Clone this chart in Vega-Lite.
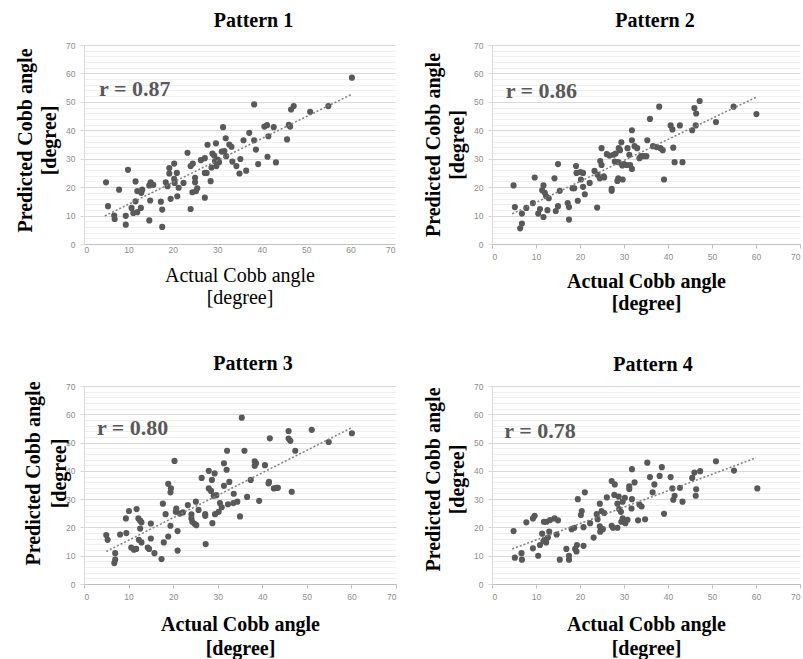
{
  "$schema": "https://vega.github.io/schema/vega-lite/v6.json",
  "background": "white",
  "padding": {"left": 15, "top": 11, "right": 0, "bottom": 0},
  "config": {
    "view": {"stroke": null},
    "axis": {"labelFont": "Liberation Sans", "labelFontSize": 8.5, "labelColor": "#8c8c8c", "titleFont": "Liberation Serif", "titleFontSize": 20, "titleFontWeight": "bold", "titleColor": "#000000", "tickSize": 4, "labelOverlap": false},
    "title": {"font": "Liberation Serif", "fontSize": 20, "fontWeight": "bold", "color": "#000000", "frame": "group", "baseline": "alphabetic"}
  },
  "datasets": {
    "p1": [
      {"actual":4.96,"predicted":21.7},{"actual":5.4,"predicted":13.3},{"actual":6.8,"predicted":10.0},{"actual":6.9,"predicted":8.8},{"actual":7.9,"predicted":19.1},{"actual":9.4,"predicted":9.9},{"actual":9.4,"predicted":6.8},{"actual":9.9,"predicted":26.1},{"actual":10.7,"predicted":12.7},{"actual":11.1,"predicted":10.9},{"actual":11.6,"predicted":22.0},{"actual":11.6,"predicted":15.0},{"actual":12.0,"predicted":18.6},{"actual":12.0,"predicted":11.2},{"actual":12.8,"predicted":12.7},{"actual":12.9,"predicted":18.0},{"actual":13.1,"predicted":19.1},{"actual":14.7,"predicted":20.6},{"actual":14.7,"predicted":8.3},{"actual":14.9,"predicted":15.3},{"actual":15.0,"predicted":21.7},{"actual":15.6,"predicted":20.8},{"actual":17.3,"predicted":14.9},{"actual":17.6,"predicted":12.1},{"actual":17.6,"predicted":6.0},{"actual":18.4,"predicted":21.7},{"actual":18.8,"predicted":20.3},{"actual":19.2,"predicted":26.7},{"actual":19.2,"predicted":24.8},{"actual":19.5,"predicted":15.9},{"actual":20.3,"predicted":28.3},{"actual":20.4,"predicted":21.5},{"actual":20.3,"predicted":22.9},{"actual":20.9,"predicted":25.0},{"actual":21.0,"predicted":16.8},{"actual":21.3,"predicted":19.8},{"actual":22.4,"predicted":21.5},{"actual":23.3,"predicted":32.1},{"actual":24.0,"predicted":12.3},{"actual":24.0,"predicted":27.4},{"actual":24.4,"predicted":18.2},{"actual":24.5,"predicted":28.3},{"actual":25.0,"predicted":23.3},{"actual":25.0,"predicted":21.7},{"actual":25.2,"predicted":18.6},{"actual":25.5,"predicted":19.6},{"actual":26.3,"predicted":29.5},{"actual":27.2,"predicted":16.3},{"actual":27.2,"predicted":25.0},{"actual":27.2,"predicted":30.2},{"actual":27.6,"predicted":25.0},{"actual":27.8,"predicted":34.9},{"actual":28.5,"predicted":22.1},{"actual":28.7,"predicted":26.9},{"actual":28.9,"predicted":31.8},{"actual":29.3,"predicted":31.1},{"actual":29.5,"predicted":29.1},{"actual":29.7,"predicted":35.4},{"actual":29.8,"predicted":27.4},{"actual":30.1,"predicted":29.7},{"actual":30.4,"predicted":28.8},{"actual":31.0,"predicted":32.5},{"actual":31.3,"predicted":41.1},{"actual":31.6,"predicted":32.7},{"actual":31.9,"predicted":37.2},{"actual":32.0,"predicted":30.9},{"actual":32.7,"predicted":35.0},{"actual":33.2,"predicted":34.2},{"actual":33.4,"predicted":29.0},{"actual":34.3,"predicted":27.4},{"actual":35.0,"predicted":24.8},{"actual":35.2,"predicted":29.9},{"actual":35.9,"predicted":36.5},{"actual":36.5,"predicted":25.8},{"actual":37.2,"predicted":39.1},{"actual":38.3,"predicted":49.1},{"actual":38.3,"predicted":36.5},{"actual":38.7,"predicted":33.2},{"actual":39.2,"predicted":28.1},{"actual":40.6,"predicted":41.3},{"actual":41.2,"predicted":41.8},{"actual":41.3,"predicted":30.7},{"actual":41.5,"predicted":37.9},{"actual":42.7,"predicted":41.1},{"actual":43.2,"predicted":28.7},{"actual":45.7,"predicted":36.8},{"actual":46.1,"predicted":41.9},{"actual":46.4,"predicted":41.3},{"actual":46.6,"predicted":47.3},{"actual":47.2,"predicted":48.5},{"actual":50.9,"predicted":46.5},{"actual":55.0,"predicted":48.5},{"actual":60.3,"predicted":58.5}
    ],
    "p2": [
      {"actual":4.9,"predicted":20.6},{"actual":5.2,"predicted":13.0},{"actual":6.4,"predicted":5.5},{"actual":6.8,"predicted":7.2},{"actual":6.8,"predicted":10.7},{"actual":7.8,"predicted":12.7},{"actual":9.3,"predicted":14.4},{"actual":9.7,"predicted":23.4},{"actual":10.5,"predicted":10.7},{"actual":10.9,"predicted":12.3},{"actual":11.7,"predicted":9.5},{"actual":11.7,"predicted":20.6},{"actual":11.4,"predicted":18.9},{"actual":12.0,"predicted":18.0},{"actual":12.3,"predicted":16.8},{"actual":12.6,"predicted":11.9},{"actual":12.9,"predicted":16.1},{"actual":14.2,"predicted":23.1},{"actual":14.5,"predicted":11.6},{"actual":15.0,"predicted":28.1},{"actual":15.0,"predicted":13.3},{"actual":15.4,"predicted":18.7},{"actual":17.2,"predicted":14.4},{"actual":17.5,"predicted":13.0},{"actual":17.5,"predicted":8.6},{"actual":18.3,"predicted":19.6},{"actual":18.7,"predicted":19.6},{"actual":19.1,"predicted":27.4},{"actual":19.2,"predicted":25.0},{"actual":19.5,"predicted":15.2},{"actual":20.1,"predicted":25.3},{"actual":20.2,"predicted":22.7},{"actual":20.7,"predicted":25.0},{"actual":20.7,"predicted":20.1},{"actual":21.1,"predicted":17.5},{"actual":22.2,"predicted":21.5},{"actual":23.3,"predicted":25.7},{"actual":23.9,"predicted":12.8},{"actual":24.0,"predicted":24.4},{"actual":24.5,"predicted":23.1},{"actual":24.6,"predicted":29.2},{"actual":24.9,"predicted":33.7},{"actual":24.9,"predicted":27.8},{"actual":25.4,"predicted":23.8},{"actual":25.5,"predicted":23.4},{"actual":26.1,"predicted":31.6},{"actual":26.7,"predicted":31.1},{"actual":27.2,"predicted":18.7},{"actual":27.2,"predicted":19.4},{"actual":27.6,"predicted":31.4},{"actual":27.9,"predicted":29.0},{"actual":28.1,"predicted":31.8},{"actual":28.5,"predicted":22.2},{"actual":28.7,"predicted":23.1},{"actual":28.7,"predicted":28.8},{"actual":28.8,"predicted":33.7},{"actual":29.1,"predicted":33.0},{"actual":29.4,"predicted":35.8},{"actual":29.6,"predicted":27.6},{"actual":29.7,"predicted":22.7},{"actual":30.0,"predicted":28.1},{"actual":30.6,"predicted":27.8},{"actual":30.8,"predicted":33.7},{"actual":31.2,"predicted":31.4},{"actual":31.4,"predicted":27.8},{"actual":31.8,"predicted":26.4},{"actual":31.8,"predicted":36.5},{"actual":31.8,"predicted":40.0},{"actual":32.4,"predicted":34.4},{"actual":33.0,"predicted":33.7},{"actual":33.5,"predicted":30.2},{"actual":33.9,"predicted":30.9},{"actual":34.5,"predicted":30.9},{"actual":35.1,"predicted":30.9},{"actual":35.3,"predicted":36.5},{"actual":35.9,"predicted":44.0},{"actual":36.6,"predicted":34.4},{"actual":37.4,"predicted":34.1},{"actual":38.0,"predicted":48.3},{"actual":38.3,"predicted":33.7},{"actual":38.8,"predicted":33.0},{"actual":39.1,"predicted":22.7},{"actual":40.6,"predicted":41.7},{"actual":41.0,"predicted":40.3},{"actual":41.2,"predicted":33.9},{"actual":41.5,"predicted":28.8},{"actual":42.7,"predicted":41.7},{"actual":43.3,"predicted":28.8},{"actual":45.5,"predicted":40.0},{"actual":46.0,"predicted":47.8},{"actual":46.3,"predicted":41.7},{"actual":46.4,"predicted":45.9},{"actual":47.2,"predicted":50.3},{"actual":50.9,"predicted":42.9},{"actual":54.9,"predicted":48.3},{"actual":60.1,"predicted":45.7}
    ],
    "p3": [
      {"actual":5.0,"predicted":17.3},{"actual":5.3,"predicted":15.6},{"actual":7.0,"predicted":10.9},{"actual":7.0,"predicted":8.6},{"actual":6.8,"predicted":7.4},{"actual":8.1,"predicted":17.5},{"actual":9.4,"predicted":23.2},{"actual":9.5,"predicted":18.0},{"actual":10.1,"predicted":25.8},{"actual":10.6,"predicted":12.9},{"actual":11.2,"predicted":12.1},{"actual":11.7,"predicted":12.4},{"actual":11.8,"predicted":26.5},{"actual":12.2,"predicted":23.2},{"actual":12.3,"predicted":15.6},{"actual":12.6,"predicted":22.4},{"actual":12.6,"predicted":19.6},{"actual":12.9,"predicted":21.8},{"actual":12.9,"predicted":14.7},{"actual":14.3,"predicted":12.9},{"actual":14.6,"predicted":12.4},{"actual":15.0,"predicted":21.4},{"actual":15.0,"predicted":16.1},{"actual":15.8,"predicted":10.9},{"actual":17.4,"predicted":8.8},{"actual":17.7,"predicted":28.4},{"actual":17.9,"predicted":14.7},{"actual":18.3,"predicted":24.7},{"actual":18.9,"predicted":35.4},{"actual":18.9,"predicted":16.8},{"actual":19.4,"predicted":32.4},{"actual":19.4,"predicted":20.6},{"actual":19.5,"predicted":33.8},{"actual":20.3,"predicted":43.5},{"actual":20.6,"predicted":25.5},{"actual":20.7,"predicted":26.7},{"actual":21.0,"predicted":18.7},{"actual":21.0,"predicted":11.8},{"actual":21.5,"predicted":24.9},{"actual":22.2,"predicted":25.3},{"actual":23.3,"predicted":27.9},{"actual":24.1,"predicted":24.6},{"actual":24.1,"predicted":23.2},{"actual":24.3,"predicted":22.0},{"actual":24.8,"predicted":21.3},{"actual":25.1,"predicted":29.1},{"actual":25.2,"predicted":20.8},{"actual":25.7,"predicted":26.2},{"actual":26.4,"predicted":37.5},{"actual":27.2,"predicted":24.7},{"actual":27.2,"predicted":24.1},{"actual":27.3,"predicted":14.1},{"actual":28.0,"predicted":40.0},{"actual":28.0,"predicted":33.8},{"actual":28.5,"predicted":32.9},{"actual":28.7,"predicted":36.8},{"actual":28.8,"predicted":21.5},{"actual":29.1,"predicted":31.2},{"actual":29.3,"predicted":39.1},{"actual":29.4,"predicted":24.7},{"actual":29.7,"predicted":31.4},{"actual":30.2,"predicted":25.5},{"actual":30.5,"predicted":28.6},{"actual":30.9,"predicted":27.1},{"actual":31.4,"predicted":42.7},{"actual":31.4,"predicted":34.7},{"actual":32.0,"predicted":40.4},{"actual":32.1,"predicted":47.1},{"actual":32.3,"predicted":28.2},{"actual":32.6,"predicted":36.1},{"actual":33.5,"predicted":28.6},{"actual":33.6,"predicted":31.9},{"actual":34.4,"predicted":29.1},{"actual":35.0,"predicted":23.9},{"actual":35.4,"predicted":58.8},{"actual":36.0,"predicted":47.1},{"actual":36.6,"predicted":30.8},{"actual":37.4,"predicted":36.8},{"actual":38.3,"predicted":43.4},{"actual":38.3,"predicted":41.8},{"actual":38.6,"predicted":42.7},{"actual":39.3,"predicted":29.4},{"actual":40.6,"predicted":42.0},{"actual":41.4,"predicted":35.6},{"actual":41.5,"predicted":36.1},{"actual":41.7,"predicted":51.5},{"actual":42.6,"predicted":33.8},{"actual":43.2,"predicted":34.0},{"actual":43.5,"predicted":34.0},{"actual":45.9,"predicted":54.1},{"actual":45.9,"predicted":51.4},{"actual":46.3,"predicted":50.6},{"actual":46.6,"predicted":32.6},{"actual":47.4,"predicted":47.1},{"actual":51.1,"predicted":54.5},{"actual":54.9,"predicted":50.2},{"actual":60.1,"predicted":53.3}
    ],
    "p4": [
      {"actual":4.9,"predicted":18.7},{"actual":5.2,"predicted":9.3},{"actual":6.7,"predicted":10.9},{"actual":6.8,"predicted":8.6},{"actual":7.8,"predicted":21.8},{"actual":9.3,"predicted":23.2},{"actual":9.3,"predicted":12.6},{"actual":9.7,"predicted":24.1},{"actual":10.5,"predicted":10.0},{"actual":10.9,"predicted":13.8},{"actual":11.4,"predicted":17.8},{"actual":11.7,"predicted":15.2},{"actual":11.8,"predicted":22.0},{"actual":12.0,"predicted":15.6},{"actual":12.4,"predicted":22.0},{"actual":12.3,"predicted":14.7},{"actual":12.7,"predicted":16.4},{"actual":13.0,"predicted":18.5},{"actual":13.2,"predicted":22.6},{"actual":14.2,"predicted":23.2},{"actual":14.7,"predicted":17.5},{"actual":15.0,"predicted":22.5},{"actual":15.4,"predicted":8.6},{"actual":16.9,"predicted":12.4},{"actual":17.5,"predicted":10.0},{"actual":17.5,"predicted":8.6},{"actual":18.1,"predicted":19.4},{"actual":18.7,"predicted":19.9},{"actual":18.9,"predicted":12.4},{"actual":19.2,"predicted":11.5},{"actual":19.3,"predicted":13.8},{"actual":19.5,"predicted":30.0},{"actual":20.2,"predicted":24.4},{"actual":20.4,"predicted":25.8},{"actual":20.8,"predicted":13.5},{"actual":20.8,"predicted":20.1},{"actual":21.1,"predicted":32.4},{"actual":22.3,"predicted":21.5},{"actual":23.1,"predicted":16.4},{"actual":23.8,"predicted":24.7},{"actual":24.0,"predicted":22.9},{"actual":24.5,"predicted":28.4},{"actual":24.5,"predicted":20.4},{"actual":24.6,"predicted":18.5},{"actual":24.9,"predicted":25.8},{"actual":25.2,"predicted":19.4},{"actual":25.5,"predicted":25.1},{"actual":26.1,"predicted":30.6},{"actual":27.2,"predicted":36.4},{"actual":27.2,"predicted":20.6},{"actual":27.5,"predicted":19.9},{"actual":27.8,"predicted":31.5},{"actual":27.9,"predicted":35.2},{"actual":28.5,"predicted":28.4},{"actual":28.5,"predicted":19.9},{"actual":28.8,"predicted":30.9},{"actual":28.9,"predicted":26.5},{"actual":29.3,"predicted":25.5},{"actual":29.4,"predicted":22.0},{"actual":29.7,"predicted":23.2},{"actual":29.7,"predicted":29.1},{"actual":30.2,"predicted":30.5},{"actual":30.3,"predicted":21.5},{"actual":30.8,"predicted":22.7},{"actual":31.2,"predicted":33.6},{"actual":31.2,"predicted":34.5},{"actual":31.7,"predicted":26.7},{"actual":31.8,"predicted":30.0},{"actual":31.8,"predicted":40.6},{"actual":32.4,"predicted":35.9},{"actual":33.2,"predicted":22.5},{"actual":33.5,"predicted":28.1},{"actual":34.0,"predicted":27.4},{"actual":34.8,"predicted":22.9},{"actual":35.3,"predicted":42.9},{"actual":35.9,"predicted":37.8},{"actual":36.9,"predicted":35.2},{"actual":36.5,"predicted":32.4},{"actual":38.1,"predicted":38.2},{"actual":38.6,"predicted":41.3},{"actual":39.1,"predicted":24.8},{"actual":40.6,"predicted":37.8},{"actual":41.0,"predicted":33.8},{"actual":41.2,"predicted":29.8},{"actual":41.5,"predicted":31.2},{"actual":42.7,"predicted":34.0},{"actual":43.3,"predicted":29.1},{"actual":45.5,"predicted":37.5},{"actual":46.0,"predicted":39.4},{"actual":46.3,"predicted":31.2},{"actual":46.4,"predicted":33.5},{"actual":47.3,"predicted":39.9},{"actual":50.9,"predicted":43.4},{"actual":55.0,"predicted":40.1},{"actual":60.3,"predicted":33.8}
    ],
    "t1": [{"actual":4.7,"predicted":9.9},{"actual":60.3,"predicted":52.7}],
    "t2": [{"actual":4.6,"predicted":10.6},{"actual":60.0,"predicted":51.6}],
    "t3": [{"actual":5.0,"predicted":11.5},{"actual":60.1,"predicted":55.3}],
    "t4": [{"actual":4.6,"predicted":12.4},{"actual":60.0,"predicted":44.6}]
  },
  "columns": 2,
  "spacing": {"row": 142, "column": 96},
  "bounds": "flush",
  "concat": [
    {
      "width": 311, "height": 199,
      "title": {"text": "Pattern 1", "offset": 10, "dx": 14},
      "layer": [
        {
          "data": {"name": "p1"},
          "mark": {"type": "circle", "size": 38, "color": "#595959", "opacity": 1},
          "encoding": {
            "x": {"field": "actual", "type": "quantitative", "scale": {"domain": [0, 70], "nice": false},
              "axis": {"values": [0,10,20,30,40,50,60,70], "tickCount": 20, "grid": false, "ticks": false, "labelPadding": 1, "labelOverlap": false, "domainColor": "#bfbfbf", "title": ["Actual Cobb angle", "[degree]"], "titleFontWeight": "normal", "titleLineHeight": 22, "titlePadding": 12}},
            "y": {"field": "predicted", "type": "quantitative", "scale": {"domain": [0, 70], "nice": false},
              "axis": {"values": [0,2,4,6,8,10,12,14,16,18,20,22,24,26,28,30,32,34,36,38,40,42,44,46,48,50,52,54,56,58,60,62,64,66,68,70], "tickCount": 40, "grid": true, "labelOverlap": false,
                "gridColor": {"condition": {"test": "datum.value % 10 === 0", "value": "#d9d9d9"}, "value": "#efefef"},
                "tickColor": "#d9d9d9", "tickOpacity": {"condition": {"test": "datum.value % 10 === 0", "value": 1}, "value": 0},
                "labelExpr": "datum.value % 10 === 0 ? datum.label : ''", "labelPadding": 5, "domainColor": "#d9d9d9",
                "title": ["Predicted Cobb angle", "[degree]"], "titleLineHeight": 24, "titlePadding": 6, "titleY": 95}}
          }
        },
        {
          "data": {"name": "t1"},
          "mark": {"type": "line", "strokeDash": [2, 2], "color": "#7f7f7f", "strokeWidth": 1.5},
          "encoding": {"x": {"field": "actual", "type": "quantitative"}, "y": {"field": "predicted", "type": "quantitative"}}
        },
        {
          "data": {"values": [{"label": "r = 0.87"}]},
          "mark": {"type": "text", "align": "left", "baseline": "middle", "font": "Liberation Serif", "fontSize": 22, "fontWeight": "bold", "color": "#595959"},
          "encoding": {"x": {"datum": 3.4}, "y": {"datum": 54.6}, "text": {"field": "label"}}
        }
      ]
    },
    {
      "width": 308, "height": 199,
      "title": {"text": "Pattern 2", "offset": 10, "dx": 9},
      "layer": [
        {
          "data": {"name": "p2"},
          "mark": {"type": "circle", "size": 38, "color": "#595959", "opacity": 1},
          "encoding": {
            "x": {"field": "actual", "type": "quantitative", "scale": {"domain": [0, 70], "nice": false},
              "axis": {"values": [0,10,20,30,40,50,60,70], "tickCount": 20, "grid": false, "tickColor": "#bfbfbf", "labelPadding": 4, "labelOverlap": false, "labelFlush": 3, "domainColor": "#bfbfbf",
                "title": ["Actual Cobb angle", "[degree]"], "titleLineHeight": 22, "titlePadding": 11}},
            "y": {"field": "predicted", "type": "quantitative", "scale": {"domain": [0, 70], "nice": false},
              "axis": {"values": [0,2,4,6,8,10,12,14,16,18,20,22,24,26,28,30,32,34,36,38,40,42,44,46,48,50,52,54,56,58,60,62,64,66,68,70], "tickCount": 40, "grid": true, "labelOverlap": false,
                "gridColor": {"condition": {"test": "datum.value % 10 === 0", "value": "#d9d9d9"}, "value": "#efefef"},
                "tickColor": "#d9d9d9", "tickOpacity": {"condition": {"test": "datum.value % 10 === 0", "value": 1}, "value": 0},
                "labelExpr": "datum.value % 10 === 0 ? datum.label : ''", "labelPadding": 5, "domainColor": "#d9d9d9",
                "title": ["Predicted Cobb angle", "[degree]"], "titleLineHeight": 24, "titlePadding": 6}}
          }
        },
        {
          "data": {"name": "t2"},
          "mark": {"type": "line", "strokeDash": [2, 2], "color": "#7f7f7f", "strokeWidth": 1.5},
          "encoding": {"x": {"field": "actual", "type": "quantitative"}, "y": {"field": "predicted", "type": "quantitative"}}
        },
        {
          "data": {"values": [{"label": "r = 0.86"}]},
          "mark": {"type": "text", "align": "left", "baseline": "middle", "font": "Liberation Serif", "fontSize": 22, "fontWeight": "bold", "color": "#595959"},
          "encoding": {"x": {"datum": 3.1}, "y": {"datum": 53.7}, "text": {"field": "label"}}
        }
      ]
    },
    {
      "width": 312, "height": 198,
      "title": {"text": "Pattern 3", "offset": 7, "dx": 13},
      "layer": [
        {
          "data": {"name": "p3"},
          "mark": {"type": "circle", "size": 38, "color": "#595959", "opacity": 1},
          "encoding": {
            "x": {"field": "actual", "type": "quantitative", "scale": {"domain": [0, 70], "nice": false},
              "axis": {"values": [0,10,20,30,40,50,60,70], "tickCount": 20, "grid": false, "tickColor": "#bfbfbf", "labelPadding": 4, "labelOverlap": false, "domainColor": "#bfbfbf",
                "title": ["Actual Cobb angle", "[degree]"], "titleLineHeight": 24, "titlePadding": 14}},
            "y": {"field": "predicted", "type": "quantitative", "scale": {"domain": [0, 70], "nice": false},
              "axis": {"values": [0,2,4,6,8,10,12,14,16,18,20,22,24,26,28,30,32,34,36,38,40,42,44,46,48,50,52,54,56,58,60,62,64,66,68,70], "tickCount": 40, "grid": true, "labelOverlap": false,
                "gridColor": {"condition": {"test": "datum.value % 10 === 0", "value": "#d9d9d9"}, "value": "#efefef"},
                "tickColor": "#d9d9d9", "tickOpacity": {"condition": {"test": "datum.value % 10 === 0", "value": 1}, "value": 0},
                "labelExpr": "datum.value % 10 === 0 ? datum.label : ''", "labelPadding": 5, "domainColor": "#d9d9d9",
                "title": ["Predicted Cobb angle", "[degree]"], "titleLineHeight": 26, "titlePadding": -4, "titleY": 87}}
          }
        },
        {
          "data": {"name": "t3"},
          "mark": {"type": "line", "strokeDash": [2, 2], "color": "#7f7f7f", "strokeWidth": 1.5},
          "encoding": {"x": {"field": "actual", "type": "quantitative"}, "y": {"field": "predicted", "type": "quantitative"}}
        },
        {
          "data": {"values": [{"label": "r = 0.80"}]},
          "mark": {"type": "text", "align": "left", "baseline": "middle", "font": "Liberation Serif", "fontSize": 22, "fontWeight": "bold", "color": "#595959"},
          "encoding": {"x": {"datum": 2.9}, "y": {"datum": 55.3}, "text": {"field": "label"}}
        }
      ]
    },
    {
      "width": 308, "height": 198,
      "title": {"text": "Pattern 4", "offset": 7, "dx": 7},
      "layer": [
        {
          "data": {"name": "p4"},
          "mark": {"type": "circle", "size": 38, "color": "#595959", "opacity": 1},
          "encoding": {
            "x": {"field": "actual", "type": "quantitative", "scale": {"domain": [0, 70], "nice": false},
              "axis": {"values": [0,10,20,30,40,50,60,70], "tickCount": 20, "grid": false, "tickColor": "#bfbfbf", "labelPadding": 4, "labelOverlap": false, "labelFlush": 3, "domainColor": "#bfbfbf",
                "title": ["Actual Cobb angle", "[degree]"], "titleLineHeight": 24, "titlePadding": 14}},
            "y": {"field": "predicted", "type": "quantitative", "scale": {"domain": [0, 70], "nice": false},
              "axis": {"values": [0,2,4,6,8,10,12,14,16,18,20,22,24,26,28,30,32,34,36,38,40,42,44,46,48,50,52,54,56,58,60,62,64,66,68,70], "tickCount": 40, "grid": true, "labelOverlap": false,
                "gridColor": {"condition": {"test": "datum.value % 10 === 0", "value": "#d9d9d9"}, "value": "#efefef"},
                "tickColor": "#d9d9d9", "tickOpacity": {"condition": {"test": "datum.value % 10 === 0", "value": 1}, "value": 0},
                "labelExpr": "datum.value % 10 === 0 ? datum.label : ''", "labelPadding": 5, "domainColor": "#d9d9d9",
                "title": ["Predicted Cobb angle", "[degree]"], "titleLineHeight": 24, "titlePadding": 6, "titleY": 93}}
          }
        },
        {
          "data": {"name": "t4"},
          "mark": {"type": "line", "strokeDash": [2, 2], "color": "#7f7f7f", "strokeWidth": 1.5},
          "encoding": {"x": {"field": "actual", "type": "quantitative"}, "y": {"field": "predicted", "type": "quantitative"}}
        },
        {
          "data": {"values": [{"label": "r = 0.78"}]},
          "mark": {"type": "text", "align": "left", "baseline": "middle", "font": "Liberation Serif", "fontSize": 22, "fontWeight": "bold", "color": "#595959"},
          "encoding": {"x": {"datum": 2.8}, "y": {"datum": 54.0}, "text": {"field": "label"}}
        }
      ]
    }
  ]
}
